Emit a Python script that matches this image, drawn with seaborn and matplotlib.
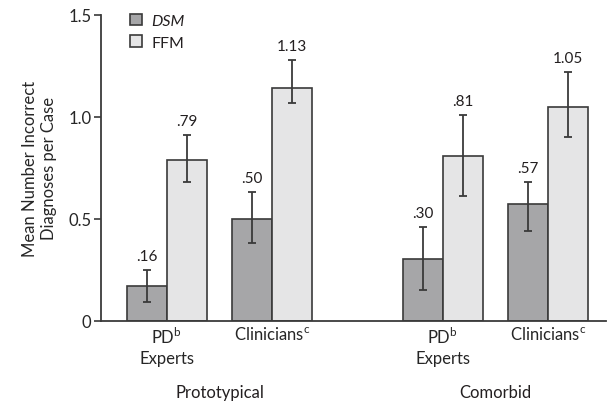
import matplotlib
matplotlib.use("Agg")
import matplotlib.pyplot as plt
import seaborn as sns
import pandas as pd
import numpy as np
from matplotlib.patches import Patch

# ---- data ----
groups = ["Prototypical", "Prototypical", "Comorbid", "Comorbid"]
raters = ["PD$^{\\mathregular{b}}$\nExperts", "Clinicians$^{\\mathregular{c}}$",
          "PD$^{\\mathregular{b}}$\nExperts", "Clinicians$^{\\mathregular{c}}$"]
methods = ["DSM", "FFM"]
dsm_vals = [0.17, 0.50, 0.30, 0.57]
ffm_vals = [0.79, 1.14, 0.81, 1.05]
dsm_labels = [".16", ".50", ".30", ".57"]
ffm_labels = [".79", "1.13", ".81", "1.05"]
dsm_err_low = [0.09, 0.38, 0.15, 0.44]
dsm_err_high = [0.25, 0.63, 0.46, 0.68]
ffm_err_low = [0.68, 1.07, 0.61, 0.90]
ffm_err_high = [0.91, 1.28, 1.01, 1.22]
yticks = [0, 0.5, 1.0, 1.5]
ytick_labels = ["0", "0.5", "1.0", "1.5"]

# ---- layout ----
slot_pos = [0.0, 1.0, 2.616, 3.616]
bar_width = 0.76
dsm_color = "#a6a6a8"
ffm_color = "#e5e5e6"
edge_color = "#3a3a3a"
text_color = "#231f20"

sns.set_style("white")
plt.rcParams["font.family"] = ["Lato", "DejaVu Sans"]
plt.rcParams["mathtext.fontset"] = "custom"
plt.rcParams["mathtext.rm"] = "Lato"
plt.rcParams["text.color"] = text_color

df = pd.DataFrame({
    "pos": slot_pos * 2,
    "value": dsm_vals + ffm_vals,
    "method": ["DSM"] * 4 + ["FFM"] * 4,
})

fig = plt.figure(figsize=(6.08, 4.06), dpi=100)
ax = fig.add_axes([101 / 608, (406 - 321.5) / 406, (606 - 101) / 608, (321.5 - 16) / 406])

sns.barplot(data=df, x="pos", y="value", hue="method", hue_order=methods,
            palette=[dsm_color, ffm_color], native_scale=True, width=bar_width,
            errorbar=None, edgecolor=edge_color, linewidth=1.2, ax=ax, legend=False)

off = bar_width / 4
for vals, lo, hi, labs, sign in [(dsm_vals, dsm_err_low, dsm_err_high, dsm_labels, -1),
                                 (ffm_vals, ffm_err_low, ffm_err_high, ffm_labels, 1)]:
    xs = np.array(slot_pos) + sign * off
    v = np.array(vals)
    yerr = np.vstack([v - np.array(lo), np.array(hi) - v])
    ax.errorbar(xs, v, yerr=yerr, fmt="none", ecolor=edge_color, elinewidth=1.3,
                capsize=3.0, capthick=1.3)
    for x, h, t in zip(xs, hi, labs):
        ax.annotate(t, (x, h), xytext=(0, 5), textcoords="offset points",
                    ha="center", va="bottom", fontsize=11, color=text_color)

ax.set_ylim(0, 1.5)
ax.set_xlim((101 - 166.7) / 105.5, (606 - 166.7) / 105.5)
ax.set_yticks(yticks)
ax.set_yticklabels(ytick_labels, fontsize=12)
ax.set_xticks(slot_pos)
ax.set_xticklabels(raters, fontsize=12, linespacing=1.3)
ax.tick_params(axis="y", length=5, width=1.2, color=edge_color, left=True, pad=2)
ax.tick_params(axis="x", length=0, pad=4)
ax.set_xlabel("")
ax.set_ylabel("Mean Number Incorrect\nDiagnoses per Case", fontsize=12, labelpad=8)

for s in ["top", "right"]:
    ax.spines[s].set_visible(False)
for s in ["left", "bottom"]:
    ax.spines[s].set_color(edge_color)
    ax.spines[s].set_linewidth(1.3)

# group labels
for gname in ["Prototypical", "Comorbid"]:
    idx = [i for i, g in enumerate(groups) if g == gname]
    xc = np.mean([slot_pos[i] for i in idx])
    ax.text(xc, -0.235, gname, transform=ax.get_xaxis_transform(),
            ha="center", va="center", fontsize=12)

handles = [Patch(facecolor=dsm_color, edgecolor=edge_color, linewidth=1.2),
           Patch(facecolor=ffm_color, edgecolor=edge_color, linewidth=1.2)]
leg = ax.legend(handles, methods, loc="upper left", bbox_to_anchor=(0.045, 1.025),
                frameon=False, fontsize=11.5, handlelength=0.75, handleheight=0.75,
                handletextpad=0.6, labelspacing=0.45, borderaxespad=0)
leg.get_texts()[0].set_fontstyle("italic")

fig.savefig("out.png", dpi=100)
